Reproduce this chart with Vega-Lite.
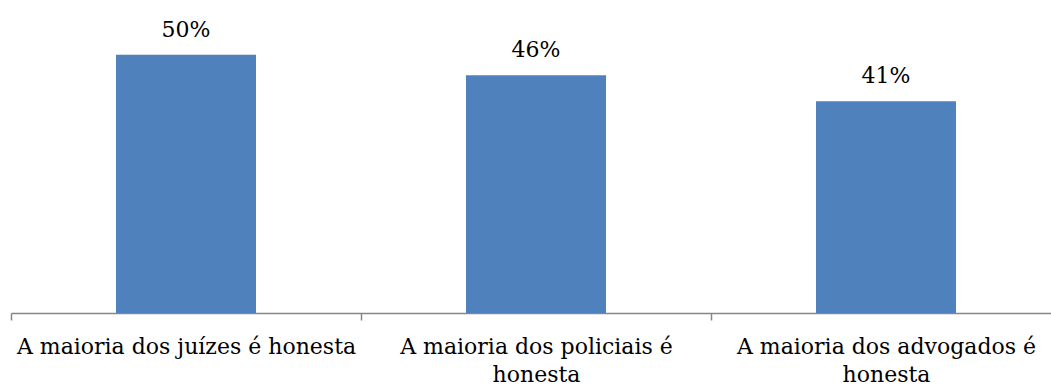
{
  "$schema": "https://vega.github.io/schema/vega-lite/v6.json",
  "width": 1040,
  "height": 310,
  "padding": {"left": 11, "top": 3, "right": 0, "bottom": 77},
  "autosize": {"type": "none"},
  "background": "white",
  "config": {"view": {"stroke": null}},
  "data": {
    "values": [
      {"afirmacao": "A maioria dos juízes é honesta", "pct": 0.50},
      {"afirmacao": "A maioria dos policiais é honesta", "pct": 0.46},
      {"afirmacao": "A maioria dos advogados é honesta", "pct": 0.41}
    ]
  },
  "encoding": {
    "x": {
      "field": "afirmacao",
      "type": "nominal",
      "sort": null,
      "scale": {"range": [0, 1050], "paddingInner": 0, "paddingOuter": 0},
      "axis": {
        "title": null,
        "labelAngle": 0,
        "labelFont": "DejaVu Serif",
        "labelFontSize": 22,
        "labelColor": "#000000",
        "labelPadding": 16,
        "labelLineHeight": 28,
        "labelLimit": 0,
        "labelExpr": "datum.label == '' ? '' : datum.label == 'A maioria dos juízes é honesta' ? datum.label : [replace(datum.label, ' honesta', ''), 'honesta']",
        "domainColor": "#868686",
        "domainWidth": 1.5,
        "tickColor": "#868686",
        "tickWidth": 1.5,
        "tickSize": 7,
        "tickBand": "extent"
      }
    },
    "y": {
      "field": "pct",
      "type": "quantitative",
      "scale": {"domain": [0, 0.6], "nice": false},
      "axis": null
    }
  },
  "layer": [
    {"mark": {"type": "bar", "color": "#4F81BD", "width": {"band": 0.4}}},
    {
      "mark": {"type": "text", "baseline": "alphabetic", "dy": -18, "font": "DejaVu Serif", "fontSize": 22, "color": "#000000"},
      "encoding": {"text": {"field": "pct", "type": "quantitative", "format": ".0%"}}
    }
  ]
}
